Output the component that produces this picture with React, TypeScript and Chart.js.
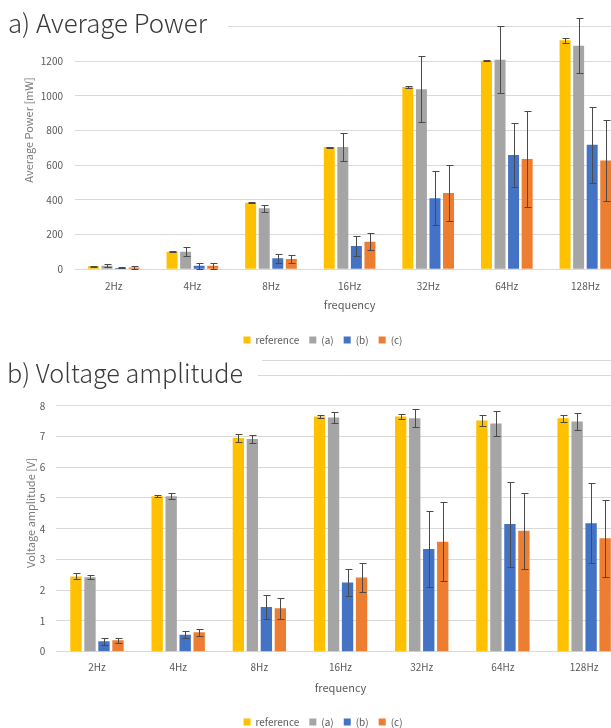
import React, { useEffect, useRef } from 'react';
import { Chart, registerables } from 'chart.js';

Chart.register(...registerables);

// ---------- data ----------
const categories = ['2Hz', '4Hz', '8Hz', '16Hz', '32Hz', '64Hz', '128Hz'];
const seriesNames = ['reference', '(a)', '(b)', '(c)'];
const seriesColors = ['#FFC000', '#A5A5A5', '#4472C4', '#ED7D31'];

const powerReference = [17, 101, 384, 704, 1050, 1202, 1319];
const powerA = [20, 101, 352, 704, 1038, 1208, 1288];
const powerB = [8, 21, 63, 134, 410, 659, 717];
const powerC = [10, 21, 59, 159, 440, 635, 627];
const powerReferenceErr = [2, 3, 4, 3, 6, 4, 13];
const powerAErr = [8, 25, 20, 79, 192, 192, 157];
const powerBErr = [3, 18, 24, 55, 157, 182, 220];
const powerCErr = [8, 17, 24, 48, 161, 276, 233];
const powerAxisMax = 1400;
const powerAxisStep = 200;

const voltageReference = [2.45, 5.06, 6.95, 7.65, 7.65, 7.52, 7.59];
const voltageA = [2.42, 5.06, 6.92, 7.62, 7.59, 7.42, 7.49];
const voltageB = [0.34, 0.55, 1.45, 2.25, 3.34, 4.15, 4.18];
const voltageC = [0.37, 0.63, 1.41, 2.41, 3.58, 3.93, 3.69];
const voltageReferenceErr = [0.1, 0.03, 0.12, 0.06, 0.09, 0.18, 0.12];
const voltageAErr = [0.07, 0.09, 0.12, 0.17, 0.29, 0.41, 0.29];
const voltageBErr = [0.12, 0.11, 0.38, 0.45, 1.24, 1.38, 1.31];
const voltageCErr = [0.09, 0.11, 0.34, 0.46, 1.29, 1.23, 1.26];
const voltageAxisMax = 9;
const voltageAxisStep = 1;

const FONT = "'Noto Sans CJK JP', 'Noto Sans', sans-serif";

type PanelSpec = {
  title: string;
  titleX: number;
  titleBaseline: number;
  titleWidth: number;
  coverW: number;
  coverH: number;
  yTitle: string;
  yTitleX: number;
  yTitleY: number;
  extraLineY?: number;
  extraLineX?: number;
  height: number;
  padTop: number;
  padLeft: number;
  yWidth: number;
  xHeight: number;
  xTickPad: number;
  xTitlePadBottom: number;
  yTickPad: number;
  max: number;
  step: number;
  series: number[][];
  errors: number[][];
};

const CANVAS_W = 640;
const PLOT_RIGHT = 624.7;

function makeErrorBarPlugin(errors: number[][]) {
  return {
    id: 'errorBars',
    afterDatasetsDraw(chart: any) {
      const ctx = chart.ctx;
      const yScale = chart.scales.y;
      ctx.save();
      ctx.strokeStyle = '#4a4a4a';
      ctx.lineWidth = 1;
      chart.data.datasets.forEach((ds: any, i: number) => {
        const meta = chart.getDatasetMeta(i);
        meta.data.forEach((bar: any, j: number) => {
          const v = ds.data[j] as number;
          const e = errors[i][j];
          const x = Math.round(bar.x) + 0.5;
          const yt = Math.round(yScale.getPixelForValue(v + e)) + 0.5;
          const yb = Math.round(yScale.getPixelForValue(Math.max(0, v - e))) + 0.5;
          ctx.beginPath();
          ctx.moveTo(x, yt);
          ctx.lineTo(x, yb);
          ctx.moveTo(x - 3, yt);
          ctx.lineTo(x + 4, yt);
          ctx.moveTo(x - 3, yb);
          ctx.lineTo(x + 4, yb);
          ctx.stroke();
        });
      });
      ctx.restore();
    },
  };
}

function makeFramePlugin(spec: PanelSpec) {
  return {
    id: 'panelFrame',
    afterDraw(chart: any) {
      const ctx = chart.ctx;
      ctx.save();
      if (spec.extraLineY !== undefined) {
        ctx.strokeStyle = '#d9d9d9';
        ctx.lineWidth = 1;
        ctx.beginPath();
        ctx.moveTo(spec.extraLineX ?? 0, spec.extraLineY + 0.5);
        ctx.lineTo(CANVAS_W, spec.extraLineY + 0.5);
        ctx.stroke();
      }
      ctx.fillStyle = '#ffffff';
      ctx.fillRect(0, 0, spec.coverW, spec.coverH);
      // panel title
      ctx.font = `300 26px ${FONT}`;
      ctx.fillStyle = '#3a3a3a';
      ctx.textBaseline = 'alphabetic';
      ctx.textAlign = 'left';
      const w = ctx.measureText(spec.title).width;
      ctx.translate(spec.titleX, spec.titleBaseline);
      ctx.scale(spec.titleWidth / w, 1);
      ctx.fillText(spec.title, 0, 0);
      ctx.restore();
      // y axis title
      ctx.save();
      ctx.font = `11px ${FONT}`;
      ctx.fillStyle = '#7a7a7a';
      ctx.textAlign = 'center';
      ctx.textBaseline = 'middle';
      ctx.translate(spec.yTitleX, spec.yTitleY);
      ctx.rotate(-Math.PI / 2);
      ctx.fillText(spec.yTitle, 0, 0);
      ctx.restore();
    },
  };
}

function Panel({ spec, top }: { spec: PanelSpec; top: number }) {
  const ref = useRef<HTMLCanvasElement | null>(null);
  useEffect(() => {
    if (!ref.current) return;
    const chart = new Chart(ref.current, {
      type: 'bar',
      data: {
        labels: categories,
        datasets: spec.series.map((d, i) => ({
          label: seriesNames[i],
          data: d,
          backgroundColor: seriesColors[i],
          borderWidth: 0,
          barPercentage: 0.81,
          categoryPercentage: 0.69,
        })),
      },
      options: {
        responsive: false,
        animation: false,
        devicePixelRatio: 1,
        layout: {
          padding: {
            top: spec.padTop,
            left: spec.padLeft,
            right: CANVAS_W - PLOT_RIGHT,
            bottom: 0,
          },
        },
        plugins: {
          legend: {
            position: 'bottom',
            labels: {
              boxWidth: 7,
              boxHeight: 7,
              padding: 10,
              color: '#595959',
              font: { family: FONT, size: 10 },
            },
          },
          tooltip: { enabled: false },
        },
        scales: {
          x: {
            grid: { display: false, drawTicks: false },
            border: { display: false },
            ticks: {
              color: '#595959',
              font: { family: FONT, size: 10 },
              padding: spec.xTickPad,
            },
            title: {
              display: true,
              text: 'frequency',
              color: '#595959',
              font: { family: FONT, size: 11 },
              padding: { top: 0, bottom: spec.xTitlePadBottom },
            },
            afterFit: (s: any) => {
              s.height = spec.xHeight;
            },
          },
          y: {
            min: 0,
            max: spec.max,
            ticks: {
              stepSize: spec.step,
              color: '#595959',
              font: { family: FONT, size: 10 },
              padding: spec.yTickPad,
              callback: (v: any) => String(v),
            },
            grid: { color: '#d9d9d9', drawTicks: false, lineWidth: 1 },
            border: { display: false },
            afterFit: (s: any) => {
              s.width = spec.yWidth;
            },
          },
        },
      } as any,
      plugins: [makeErrorBarPlugin(spec.errors), makeFramePlugin(spec)],
    });
    return () => chart.destroy();
  }, [spec]);
  return (
    <canvas
      ref={ref}
      width={CANVAS_W}
      height={spec.height}
      style={{ position: 'absolute', left: 0, top, width: CANVAS_W, height: spec.height }}
    />
  );
}

const powerSpec: PanelSpec = {
  title: 'a) Average Power',
  titleX: 8,
  titleBaseline: 33,
  titleWidth: 199,
  coverW: 228,
  coverH: 45,
  yTitle: 'Average Power [mW]',
  yTitleX: 29,
  yTitleY: 130,
  height: 355,
  padTop: 26.3,
  padLeft: 21.3,
  yWidth: 53.2,
  xHeight: 55.7,
  xTickPad: 11,
  xTitlePadBottom: 13.4,
  yTickPad: 11.5,
  max: powerAxisMax,
  step: powerAxisStep,
  series: [powerReference, powerA, powerB, powerC],
  errors: [powerReferenceErr, powerAErr, powerBErr, powerCErr],
};

const voltageSpec: PanelSpec = {
  title: 'b) Voltage amplitude',
  titleX: 7,
  titleBaseline: 28,
  titleWidth: 236,
  coverW: 258,
  coverH: 40,
  yTitle: 'Voltage amplitude [V]',
  yTitleX: 31,
  yTitleY: 158,
  extraLineY: 5,
  extraLineX: 262,
  height: 382,
  padTop: 20,
  padLeft: 21.4,
  yWidth: 35,
  xHeight: 55.3,
  xTickPad: 10,
  xTitlePadBottom: 12.4,
  yTickPad: 11,
  max: voltageAxisMax,
  step: voltageAxisStep,
  series: [voltageReference, voltageA, voltageB, voltageC],
  errors: [voltageReferenceErr, voltageAErr, voltageBErr, voltageCErr],
};

export default function App() {
  return (
    <div
      style={{
        position: 'absolute',
        left: 0,
        top: 0,
        width: 611,
        height: 728,
        overflow: 'hidden',
        background: '#ffffff',
      }}
    >
      <Panel spec={powerSpec} top={0} />
      <Panel spec={voltageSpec} top={355} />
    </div>
  );
}
